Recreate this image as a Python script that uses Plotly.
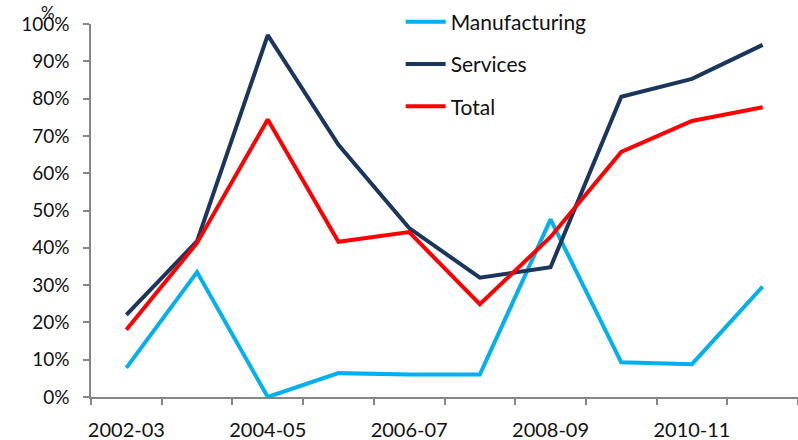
import plotly.graph_objects as go

# Fiscal years on the horizontal axis
years = ["2002-03", "2003-04", "2004-05", "2005-06", "2006-07",
         "2007-08", "2008-09", "2009-10", "2010-11", "2011-12"]

# Shares (fraction of 1) by sector
manufacturing = [0.078, 0.335, 0.0, 0.064, 0.060, 0.060, 0.476, 0.093, 0.088, 0.296]
services = [0.220, 0.418, 0.970, 0.676, 0.453, 0.320, 0.348, 0.805, 0.853, 0.944]
total = [0.180, 0.413, 0.744, 0.416, 0.442, 0.249, 0.429, 0.657, 0.740, 0.777]

# Only every other year is labelled
tick_text = [y if i % 2 == 0 else "" for i, y in enumerate(years)]

series = [
    ("Manufacturing", manufacturing, "#00B0F0"),
    ("Services", services, "#1B365C"),
    ("Total", total, "#FF0000"),
]

fig = go.Figure()
for name, values, color in series:
    fig.add_trace(go.Scatter(
        x=years, y=values, name=name, mode="lines",
        line=dict(color=color, width=4),
        legendgroup=name,
    ))

font_family = "Lato, 'Open Sans', sans-serif"
axis_grey = "#868686"
text_color = "#111111"

fig.update_layout(
    width=798, height=440,
    margin=dict(l=91, r=0, t=24, b=43, autoexpand=False),
    paper_bgcolor="white", plot_bgcolor="white",
    font=dict(family=font_family, size=19, color=text_color),
    showlegend=True,
    legend=dict(
        x=0.438, y=1.06, xanchor="left", yanchor="top",
        font=dict(size=21, color=text_color),
        tracegroupgap=12,
        bgcolor="rgba(0,0,0,0)",
        itemwidth=40,
    ),
    xaxis=dict(
        type="category",
        tickmode="array", tickvals=years, ticktext=tick_text,
        tickson="boundaries", tickangle=0,
        ticks="outside", ticklen=6, tickcolor=axis_grey, tickwidth=1.5,
        showline=True, linecolor=axis_grey, linewidth=1.5,
        showgrid=False, zeroline=False,
        range=[-0.5, 9.5],
        tickfont=dict(size=20),
        ticklabelstandoff=14,
    ),
    yaxis=dict(
        range=[0, 1], dtick=0.1, tickformat=".0%",
        ticks="outside", ticklen=6, tickcolor=axis_grey, tickwidth=1.5,
        showline=True, linecolor=axis_grey, linewidth=1.5,
        showgrid=False, zeroline=False,
        tickfont=dict(size=19),
        ticklabelstandoff=10,
    ),
    annotations=[dict(
        text="%", xref="paper", yref="paper",
        x=-0.061, y=1.03, xanchor="center", yanchor="middle",
        showarrow=False, font=dict(size=17, color=text_color),
    )],
)

fig.write_html("out.html")
